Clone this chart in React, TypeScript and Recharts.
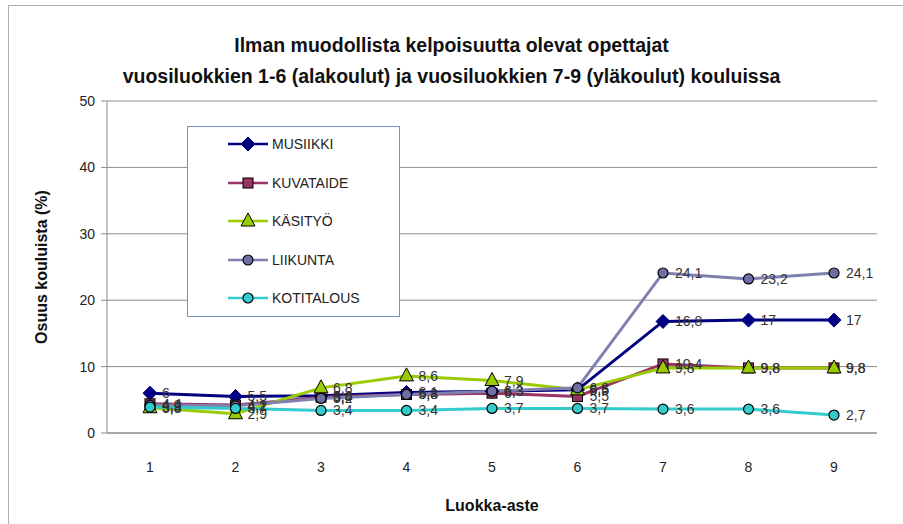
import React from "react";
import {
  LineChart,
  Line,
  XAxis,
  YAxis,
  CartesianGrid,
  LabelList,
} from "recharts";

const grades = ["1", "2", "3", "4", "5", "6", "7", "8", "9"];
const musiikki = [6, 5.5, 5.6, 6.1, 6.3, 6.5, 16.8, 17, 17];
const kuvataide = [4.4, 4.2, 5.4, 5.8, 6, 5.5, 10.4, 9.8, 9.8];
const kasityo = [3.8, 2.9, 6.8, 8.6, 7.9, 6.5, 9.8, 9.8, 9.8];
const liikunta = [4.2, 4.1, 5.2, 5.8, 6.3, 6.8, 24.1, 23.2, 24.1];
const kotitalous = [3.9, 3.7, 3.4, 3.4, 3.7, 3.7, 3.6, 3.6, 2.7];
const yTicks = [0, 10, 20, 30, 40, 50];

const data = grades.map((g, i) => ({
  grade: g,
  musiikki: musiikki[i],
  kuvataide: kuvataide[i],
  kasityo: kasityo[i],
  liikunta: liikunta[i],
  kotitalous: kotitalous[i],
}));

const FONT = "'Liberation Sans', Arial, sans-serif";

type Shape = "diamond" | "square" | "triangle" | "circle";

const series: {
  key: string;
  name: string;
  line: string;
  fill: string;
  stroke: string;
  shape: Shape;
}[] = [
  { key: "musiikki", name: "MUSIIKKI", line: "#000080", fill: "#000080", stroke: "#000080", shape: "diamond" },
  { key: "kuvataide", name: "KUVATAIDE", line: "#993366", fill: "#993366", stroke: "#000000", shape: "square" },
  { key: "kasityo", name: "KÄSITYÖ", line: "#99cc00", fill: "#99cc00", stroke: "#000000", shape: "triangle" },
  { key: "liikunta", name: "LIIKUNTA", line: "#7f7fb0", fill: "#6f6fa8", stroke: "#000000", shape: "circle" },
  { key: "kotitalous", name: "KOTITALOUS", line: "#33cccc", fill: "#33cccc", stroke: "#000000", shape: "circle" },
];

const Marker = ({ cx, cy, shape, fill, stroke }: any) => {
  if (cx == null || cy == null) return null;
  if (shape === "diamond")
    return <polygon points={`${cx},${cy - 7} ${cx + 7},${cy} ${cx},${cy + 7} ${cx - 7},${cy}`} fill={fill} stroke={stroke} />;
  if (shape === "square")
    return <rect x={cx - 5} y={cy - 5} width={10} height={10} fill={fill} stroke={stroke} />;
  if (shape === "triangle")
    return <polygon points={`${cx},${cy - 8} ${cx + 7},${cy + 5} ${cx - 7},${cy + 5}`} fill={fill} stroke={stroke} />;
  return <circle cx={cx} cy={cy} r={5} fill={fill} stroke={stroke} strokeWidth={1.2} />;
};

const fmt = (v: any) => String(v).replace(".", ",");

const LegendBox = () => (
  <div
    style={{
      position: "absolute",
      left: 187,
      top: 126,
      border: "1px solid #6d95c8",
      background: "#fff",
      width: 213,
      height: 191,
      boxSizing: "border-box",
      fontFamily: FONT,
      fontSize: 14,
      color: "#222",
    }}
  >
    {series.map((s, i) => (
      <div
        key={s.key}
        style={{ position: "absolute", left: 38, top: 7 + i * 38.5, display: "flex", alignItems: "center", height: 20 }}
      >
        <svg width={44} height={16}>
          <line x1={2} y1={8} x2={42} y2={8} stroke={s.line} strokeWidth={2.5} />
          <Marker cx={22} cy={8} shape={s.shape} fill={s.fill} stroke={s.stroke} />
        </svg>
        <span style={{ marginLeft: 2 }}>{s.name}</span>
      </div>
    ))}
  </div>
);

export default function App() {
  return (
    <div style={{ position: "fixed", left: 0, top: 0, width: 903, height: 524, background: "#fff" }}>
      <div
        style={{
          position: "absolute",
          left: 8,
          top: 5,
          width: 900,
          height: 530,
          border: "1px solid #b0b0b0",
          boxSizing: "border-box",
        }}
      />
      <div
        style={{
          position: "absolute",
          left: 0,
          top: 30,
          width: 903,
          textAlign: "center",
          fontFamily: FONT,
          fontWeight: "bold",
          fontSize: 19.5,
          lineHeight: "31px",
          color: "#111",
        }}
      >
        Ilman muodollista kelpoisuutta olevat opettajat
        <br />
        vuosiluokkien 1-6 (alakoulut) ja vuosiluokkien 7-9 (yläkoulut) kouluissa
      </div>
      <div style={{ position: "absolute", left: 0, top: 0 }}>
        <LineChart
          width={903}
          height={524}
          data={data}
          margin={{ top: 101, right: 26, left: 47, bottom: 9 }}
          style={{ fontFamily: FONT }}
        >
          <CartesianGrid vertical={false} stroke="#8c8c8c" strokeWidth={1} />
          <XAxis
            dataKey="grade"
            height={82}
            padding={{ left: 43, right: 43 }}
            tickLine={false}
            axisLine={{ stroke: "#8c8c8c" }}
            tick={{ fill: "#222", fontSize: 14 }}
            tickMargin={23}
            label={{ value: "Luokka-aste", position: "insideBottom", offset: 4, fill: "#111", fontSize: 16, fontWeight: "bold" }}
          />
          <YAxis
            width={60}
            domain={[0, 50]}
            ticks={yTicks}
            axisLine={{ stroke: "#8c8c8c" }}
            tickLine={{ stroke: "#8c8c8c" }}
            tickSize={6}
            tickMargin={6}
            tick={{ fill: "#222", fontSize: 14 }}
            label={{
              value: "Osuus kouluista (%)",
              angle: -90,
              position: "insideLeft",
              offset: -6,
              style: { textAnchor: "middle" },
              fill: "#111",
              fontSize: 16,
              fontWeight: "bold",
            }}
          />
          {series.map((s) => (
            <Line
              key={s.key}
              dataKey={s.key}
              name={s.name}
              stroke={s.line}
              strokeWidth={3}
              isAnimationActive={false}
              dot={(p: any) => <Marker key={`${s.key}-${p.index}`} {...p} shape={s.shape} fill={s.fill} stroke={s.stroke} />}
              activeDot={false}
            >
              <LabelList
                dataKey={s.key}
                position="right"
                offset={12}
                formatter={fmt}
                style={{ fill: "#333", fontSize: 14 }}
              />
            </Line>
          ))}
        </LineChart>
      </div>
      <LegendBox />
    </div>
  );
}
